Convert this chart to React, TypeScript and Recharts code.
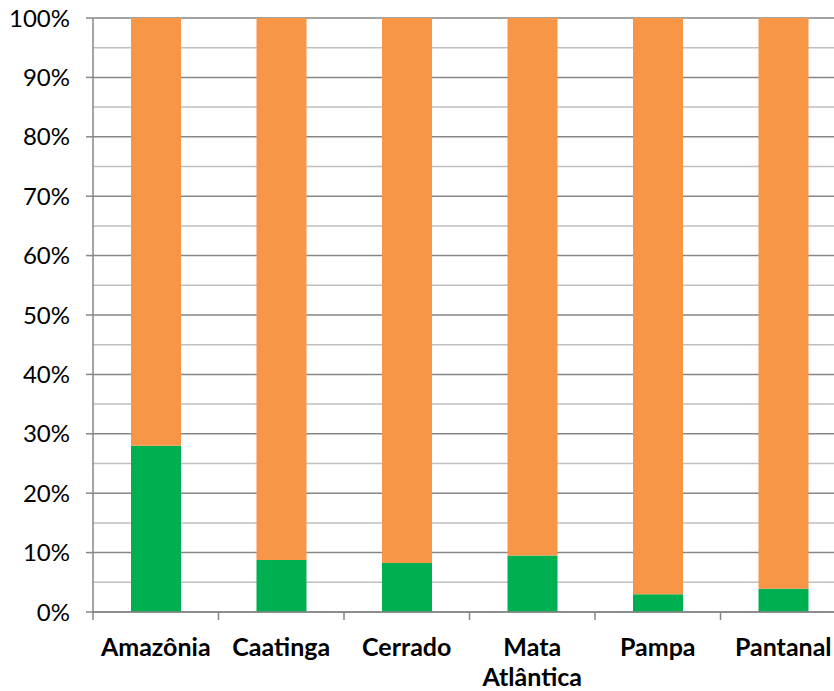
import { BarChart, Bar, XAxis, YAxis, CartesianGrid } from 'recharts';

const biomes = ['Amazônia', 'Caatinga', 'Cerrado', 'Mata Atlântica', 'Pampa', 'Pantanal'];
const greenShare = [28.0, 8.75, 8.25, 9.5, 3.0, 3.9];
const orangeShare = [72.0, 91.25, 91.75, 90.5, 97.0, 96.1];
const majorTicks = [0, 10, 20, 30, 40, 50, 60, 70, 80, 90, 100];
const minorTicks = [5, 15, 25, 35, 45, 55, 65, 75, 85, 95];

const data = biomes.map((name, i) => ({ name, green: greenShare[i], orange: orangeShare[i] }));

const FONT = 'Lato, "Open Sans", sans-serif';
const AXIS_GREY = '#868686';

// minor gridlines every 5%, placed through the y axis scale when available
function minorLines({ yAxis, offset }: any): number[] {
  const scale = yAxis?.scale;
  if (typeof scale === 'function') return minorTicks.map((t) => scale(t));
  return minorTicks.map((t) => offset.top + offset.height * (1 - t / 100));
}

function CategoryTick(props: any) {
  const { x, y, payload, index, visibleTicksCount } = props;
  const half = payload?.offset || 62.7;
  const words: string[] = String(payload.value).split(' ');
  const last = index === (visibleTicksCount ?? biomes.length) - 1;
  return (
    <g>
      <line x1={x - half} x2={x - half} y1={y} y2={y + 8} stroke={AXIS_GREY} strokeWidth={1.5} />
      {last && <line x1={x + half} x2={x + half} y1={y} y2={y + 8} stroke={AXIS_GREY} strokeWidth={1.5} />}
      <text
        x={x}
        y={y + 44}
        textAnchor="middle"
        fontFamily={FONT}
        fontWeight="bold"
        fontSize={25}
        fill="#000"
      >
        {words.map((w, i) => (
          <tspan key={i} x={x} dy={i === 0 ? 0 : 30}>
            {w}
          </tspan>
        ))}
      </text>
    </g>
  );
}

export default function App() {
  return (
    <div
      style={{
        position: 'absolute',
        left: 0,
        top: 0,
        width: 834,
        height: 691,
        overflow: 'hidden',
        background: '#fff',
      }}
    >
      <BarChart
        width={846}
        height={691}
        data={data}
        margin={{ top: 18, right: 0, bottom: 0, left: 0 }}
        barSize={50}
      >
        <CartesianGrid
          vertical={false}
          stroke="#bfbfbf"
          strokeWidth={1.5}
          horizontalCoordinatesGenerator={minorLines}
        />
        <CartesianGrid vertical={false} stroke={AXIS_GREY} strokeWidth={1.5} />
        <XAxis
          dataKey="name"
          height={79}
          tickLine={false}
          tickSize={0}
          tickMargin={0}
          axisLine={{ stroke: AXIS_GREY, strokeWidth: 1.5 }}
          tick={<CategoryTick />}
          interval={0}
        />
        <YAxis
          width={93}
          domain={[0, 100]}
          ticks={majorTicks}
          tickFormatter={(v: number) => `${v}%`}
          tickSize={7}
          tickMargin={16}
          axisLine={{ stroke: AXIS_GREY, strokeWidth: 1.5 }}
          tickLine={{ stroke: AXIS_GREY, strokeWidth: 1.5 }}
          tick={{ fontFamily: FONT, fontSize: 24, fill: '#000' }}
        />
        <Bar dataKey="green" stackId="a" fill="#00b050" isAnimationActive={false} />
        <Bar dataKey="orange" stackId="a" fill="#f79646" isAnimationActive={false} />
      </BarChart>
    </div>
  );
}
